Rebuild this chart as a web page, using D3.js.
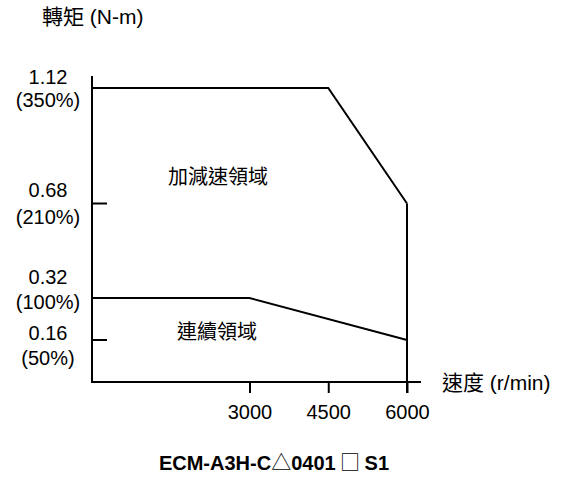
<!DOCTYPE html>
<html>
<head>
<meta charset="utf-8">
<script src="https://cdn.jsdelivr.net/npm/d3@7/dist/d3.min.js"></script>
<style>
  html, body { margin: 0; padding: 0; background: #fff; }
  svg { display: block; }
  text { font-family: "Liberation Sans", Arial, "Noto Sans CJK TC", sans-serif; fill: #000; }
</style>
</head>
<body>
<svg id="chart" width="562" height="477"></svg>
<script>
// ---- data ----
const peakSpeed = [0, 4500, 6000];
const peakTorque = [1.12, 1.12, 0.68];
const ratedSpeed = [0, 3000, 6000];
const ratedTorque = [0.32, 0.32, 0.16];
const xTickValues = [3000, 4500, 6000];
const yTickValues = [1.12, 0.68, 0.32, 0.16];
const yTickPercent = ["(350%)", "(210%)", "(100%)", "(50%)"];
const yTickDrawn = [false, true, false, true];
const yTitle = "轉矩 (N-m)";
const xTitle = "速度 (r/min)";
const peakLabel = "加減速領域";
const ratedLabel = "連續領域";
const modelParts = ["ECM-A3H-C", "△", "0401", " □ ", "S1"];

// ---- layout (not data) ----
const labelDy1 = [-11, -14, -21, -7];
const labelDy2 = [12, 13, 4, 18];

const svg = d3.select("#chart");
const x = d3.scaleLinear().domain([0, 6000]).range([92, 407]);
const y = d3.scaleLinear().domain([0, 1.12]).range([382, 88]);
const x0 = x(0), y0 = y(0);

const lineGen = d3.line().x(d => x(d[0])).y(d => y(d[1]));

// axes
svg.append("line").attr("x1", x0).attr("x2", x0).attr("y1", y(1.12) - 12).attr("y2", y0 + 1)
  .attr("stroke", "#000").attr("stroke-width", 2);
svg.append("line").attr("x1", x0).attr("x2", x(6000) + 14).attr("y1", y0).attr("y2", y0)
  .attr("stroke", "#000").attr("stroke-width", 2);

// x ticks
const xAxis = d3.axisBottom(x).tickValues(xTickValues).tickSize(11).tickFormat(d3.format("d"));
const gx = svg.append("g").attr("transform", `translate(0,${y0})`).call(xAxis);
gx.select(".domain").remove();
gx.selectAll(".tick line").attr("stroke", "#000").attr("stroke-width", 2);
gx.selectAll(".tick text").attr("y", 30).attr("dy", "0.35em")
  .style("font-size", "20px").style("font-family", "'Liberation Sans', Arial, sans-serif").attr("fill", "#000");

// y ticks (short marks only where drawn)
yTickValues.forEach((v, i) => {
  if (yTickDrawn[i]) {
    svg.append("line").attr("x1", x0).attr("x2", x0 + 15).attr("y1", y(v)).attr("y2", y(v))
      .attr("stroke", "#000").attr("stroke-width", 2);
  }
  svg.append("text").attr("x", 48).attr("y", y(v) + labelDy1[i]).attr("dy", "0.35em")
    .attr("text-anchor", "middle").style("font-size", "20px").text(d3.format(".2f")(v));
  svg.append("text").attr("x", 48).attr("y", y(v) + labelDy2[i]).attr("dy", "0.35em")
    .attr("text-anchor", "middle").style("font-size", "20px").text(yTickPercent[i]);
});

// curves
const peakPts = peakSpeed.map((s, i) => [s, peakTorque[i]]);
const ratedPts = ratedSpeed.map((s, i) => [s, ratedTorque[i]]);
svg.append("path").attr("d", lineGen(peakPts)).attr("fill", "none").attr("stroke", "#000").attr("stroke-width", 2);
svg.append("path").attr("d", lineGen(ratedPts)).attr("fill", "none").attr("stroke", "#000").attr("stroke-width", 2);
// vertical limit at max speed
const last = peakSpeed.length - 1;
svg.append("line").attr("x1", x(peakSpeed[last])).attr("x2", x(peakSpeed[last]))
  .attr("y1", y(peakTorque[last])).attr("y2", y0 + 11)
  .attr("stroke", "#000").attr("stroke-width", 2);

// texts
svg.append("text").attr("x", 42).attr("y", 17).attr("dy", "0.35em").style("font-size", "21px").text(yTitle);
svg.append("text").attr("x", 442).attr("y", y0 + 1).attr("dy", "0.35em").style("font-size", "21px").text(xTitle);
svg.append("text").attr("x", 218).attr("y", 177).attr("dy", "0.35em").attr("text-anchor", "middle")
  .style("font-size", "20px").text(peakLabel);
svg.append("text").attr("x", 217).attr("y", 332).attr("dy", "0.35em").attr("text-anchor", "middle")
  .style("font-size", "20px").text(ratedLabel);
const model = svg.append("text").attr("x", 274).attr("y", 463).attr("dy", "0.35em").attr("text-anchor", "middle")
  .style("font-size", "20px").style("font-weight", "bold").attr("xml:space", "preserve")
  .style("white-space", "pre");
modelParts.forEach((p, i) => {
  const t = model.append("tspan").text(p);
  if (i === 1 || i === 3) {
    t.style("font-family", "'Noto Sans CJK TC', sans-serif").style("font-weight", "normal");
  }
});
</script>
</body>
</html>
